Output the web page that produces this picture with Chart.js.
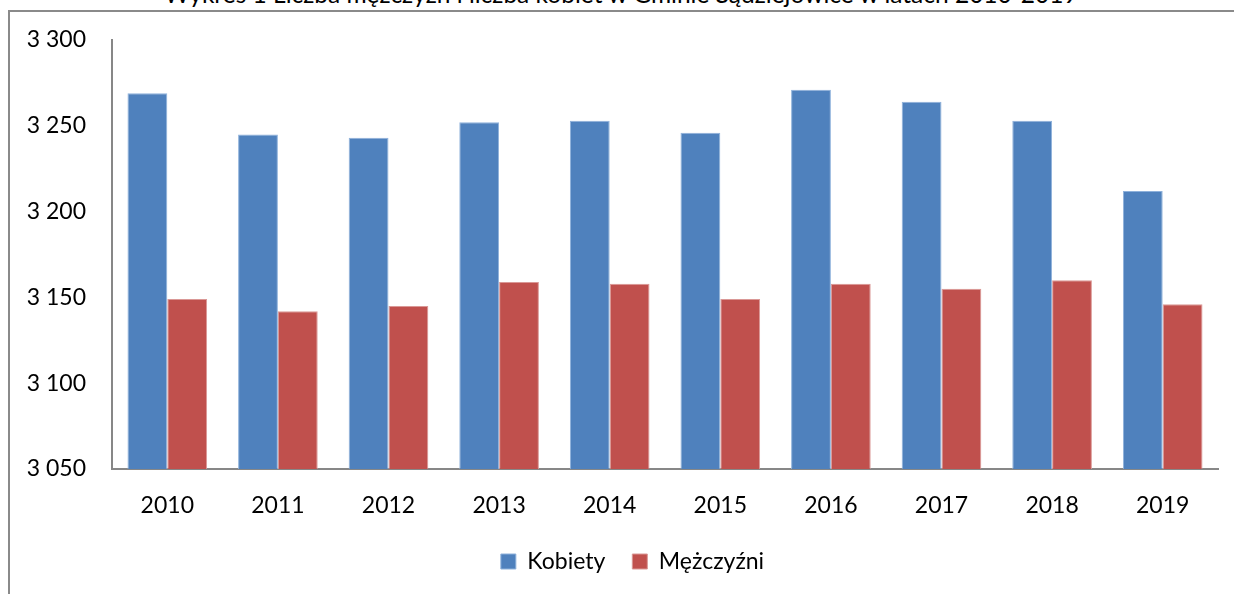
<!DOCTYPE html>
<html>
<head>
<meta charset="utf-8">
<script src="https://cdn.jsdelivr.net/npm/chart.js@4.4.1/dist/chart.umd.min.js"></script>
<style>
  html, body { margin: 0; padding: 0; background: #fff; overflow: hidden; }
  #wrap { position: relative; width: 1234px; height: 594px; overflow: hidden; }
  #tytul { position: absolute; left: 0; top: -18px; width: 1242px; text-align: center;
           font: 24.5px Lato, sans-serif; line-height: 1; color: #000; white-space: nowrap; }
  #ramka { position: absolute; left: 8px; top: 10px; width: 1400px; height: 700px; border: 2px solid #8a8a8a; }
  #wykres { position: absolute; left: 0; top: 0; }
</style>
</head>
<body>
<div id="wrap">
  <div id="tytul">Wykres 1 Liczba mężczyzn i liczba kobiet w Gminie Sądziejowice w latach 2010-2019</div>
  <div id="ramka"></div>
  <canvas id="wykres" width="1265" height="620"></canvas>
</div>
<script>
// lata i wartości
const lata = ['2010', '2011', '2012', '2013', '2014', '2015', '2016', '2017', '2018', '2019'];
const kobiety = [3269, 3245, 3243, 3252, 3253, 3246, 3271, 3264, 3253, 3212];
const mezczyzni = [3149, 3142, 3145, 3159, 3158, 3149, 3158, 3155, 3160, 3146];
const osY = { min: 3050, max: 3300, krok: 50 };

const czcionka = { family: 'Lato, sans-serif', size: 23 };

// "3300" -> "3 300"
function formatLiczby(v) {
  return String(v).replace(/\B(?=(\d{3})+(?!\d))/g, ' ');
}

// legenda w oryginale jest przesunięta trochę w prawo
const przesunLegende = {
  id: 'przesunLegende',
  afterLayout(chart) {
    chart.legend.left += 47;
  }
};

new Chart(document.getElementById('wykres'), {
  type: 'bar',
  data: {
    labels: lata,
    datasets: [
      {
        label: 'Kobiety',
        data: kobiety,
        backgroundColor: '#4F81BD',
        borderColor: '#8EB1DB',
        borderWidth: 1
      },
      {
        label: 'Mężczyźni',
        data: mezczyzni,
        backgroundColor: '#C0504D',
        borderColor: '#DA9896',
        borderWidth: 1
      }
    ]
  },
  options: {
    responsive: false,
    animation: false,
    devicePixelRatio: 1,
    layout: { padding: { left: 0, right: 47, top: 40, bottom: 37 } },
    datasets: { bar: { categoryPercentage: 0.72, barPercentage: 1 } },
    scales: {
      x: {
        grid: { display: false, drawTicks: false },
        border: { display: true, color: '#878787', width: 2 },
        ticks: { color: '#000', font: czcionka, padding: 23, maxRotation: 0 },
        afterFit: s => { s.height = 54; }
      },
      y: {
        min: osY.min,
        max: osY.max,
        grid: { display: false, drawTicks: false },
        border: { display: true, color: '#878787', width: 2 },
        ticks: { stepSize: osY.krok, color: '#000', font: czcionka, padding: 26, callback: formatLiczby },
        afterFit: s => { s.width = 112; }
      }
    },
    plugins: {
      legend: {
        position: 'bottom',
        labels: { boxWidth: 15, boxHeight: 15, padding: 27, color: '#000', font: czcionka }
      },
      tooltip: { enabled: false }
    }
  },
  plugins: [przesunLegende]
});
</script>
</body>
</html>
